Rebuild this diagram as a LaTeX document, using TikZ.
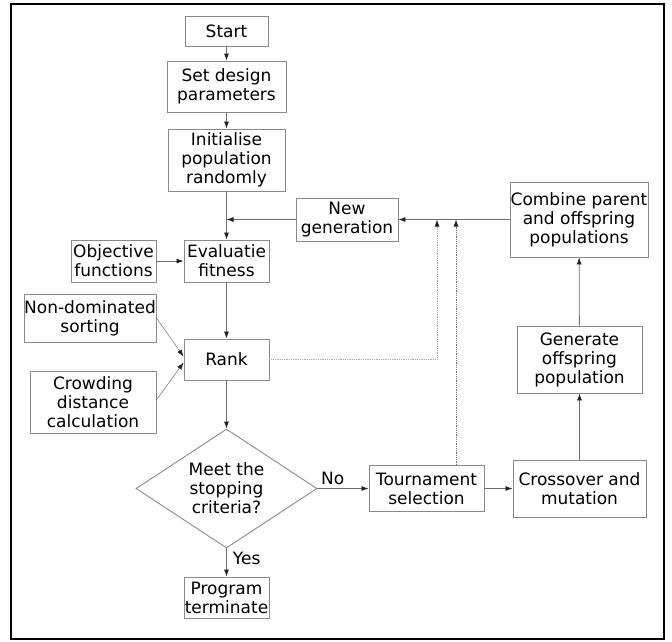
\documentclass[tikz,border=0pt]{standalone}
\usepackage{fontspec}
\setmainfont{DejaVu Sans}
\usetikzlibrary{positioning,arrows.meta,shapes.geometric}
\definecolor{boxgray}{HTML}{8A8A8A}
\definecolor{linegray}{HTML}{6E6E6E}
\definecolor{tipgray}{HTML}{222222}
\begin{document}
\begin{tikzpicture}[
    x=1pt, y=-1pt,
    box/.style={draw=boxgray, line width=0.9pt, inner sep=0pt, align=center, font=\fontsize{17}{19}\selectfont},
    decision/.style={box, diamond, aspect=1.52},
    arr/.style={-{Latex[length=7pt,width=5pt,color=tipgray]}, linegray, line width=0.8pt},
    feed/.style={arr, densely dotted},
    lbl/.style={font=\fontsize{17}{19}\selectfont, text=black, inner sep=3pt},
  ]
    \useasboundingbox (0,0) rectangle (672,641);
    \draw[line width=2.5pt] (11,4) rectangle (664,639);
    % main column
    \node[box, minimum width=83, minimum height=30]  (start)   at (226.5,31)    {Start};
    \node[box, minimum width=119, minimum height=51] (setpar)  at (226.5,86.5)  {Set design\\parameters};
    \node[box, minimum width=117, minimum height=62] (initpop) at (226.5,160)   {Initialise\\population\\randomly};
    \node[box, minimum width=85, minimum height=42]  (evalfit) at (226.5,261)   {Evaluatie\\fitness};
    \node[box, minimum width=85, minimum height=41]  (rank)    at (226.5,359.5) {Rank};
    \node[decision, minimum width=181, minimum height=119] (crit) at (226.5,488.5) {Meet the\\stopping\\criteria?};
    \node[box, minimum width=85, minimum height=41]  (prog)    at (226.5,597.5) {Program\\terminate};
    % side inputs
    \node[box, minimum width=85, minimum height=42]  (objfun)  at (113.5,261)   {Objective\\functions};
    \node[box, minimum width=132, minimum height=48] (nondom)  at (90,318)      {Non-dominated\\sorting};
    \node[box, minimum width=126, minimum height=62] (crowd)   at (93,402)      {Crowding\\distance\\calculation};
    % loop
    \node[box, minimum width=102, minimum height=43] (newgen)  at (347,219.5)   {New\\generation};
    \node[box, minimum width=138, minimum height=75] (combine) at (579,219.5)   {Combine parent\\and offspring\\populations};
    \node[box, minimum width=125, minimum height=67] (genoff)  at (579.5,359.5) {Generate\\offspring\\population};
    \node[box, minimum width=115, minimum height=46] (tourn)   at (426.5,488.5) {Tournament\\selection};
    \node[box, minimum width=133, minimum height=57] (cross)   at (579.5,488.5) {Crossover and\\mutation};
    \coordinate (join)  at (226.5,219.5);
    \coordinate (rjoin) at (437,219.5);
    \coordinate (tjoin) at (456,219.5);
    \draw[arr] (start) -- (setpar);
    \draw[arr] (setpar) -- (initpop);
    \draw[arr] (initpop) -- (evalfit);
    \draw[arr] (newgen) -- (join);
    \draw[arr] (combine) -- (newgen);
    \draw[arr] (objfun) -- (evalfit);
    \draw[arr] (evalfit) -- (rank);
    \draw[arr, line width=0.5pt] (nondom.east) -- ([yshift=3pt]rank.west);
    \draw[arr, line width=0.5pt] ([yshift=2pt]crowd.east) -- ([yshift=-3pt]rank.west);
    \draw[arr] (rank) -- (crit);
    \draw[arr] (crit) -- node[lbl, above, pos=0.3] {No} (tourn);
    \draw[arr] (crit) -- node[lbl, right, pos=0.35, inner sep=6pt] {Yes} (prog);
    \draw[arr] (tourn) -- (cross);
    \draw[arr] (cross) -- (genoff);
    \draw[arr] (genoff) -- (combine);
    \draw[feed, linegray!60] (rank.east) -| (rjoin);
    \draw[feed] (tourn.north -| tjoin) -- (tjoin);
\end{tikzpicture}
\end{document}
